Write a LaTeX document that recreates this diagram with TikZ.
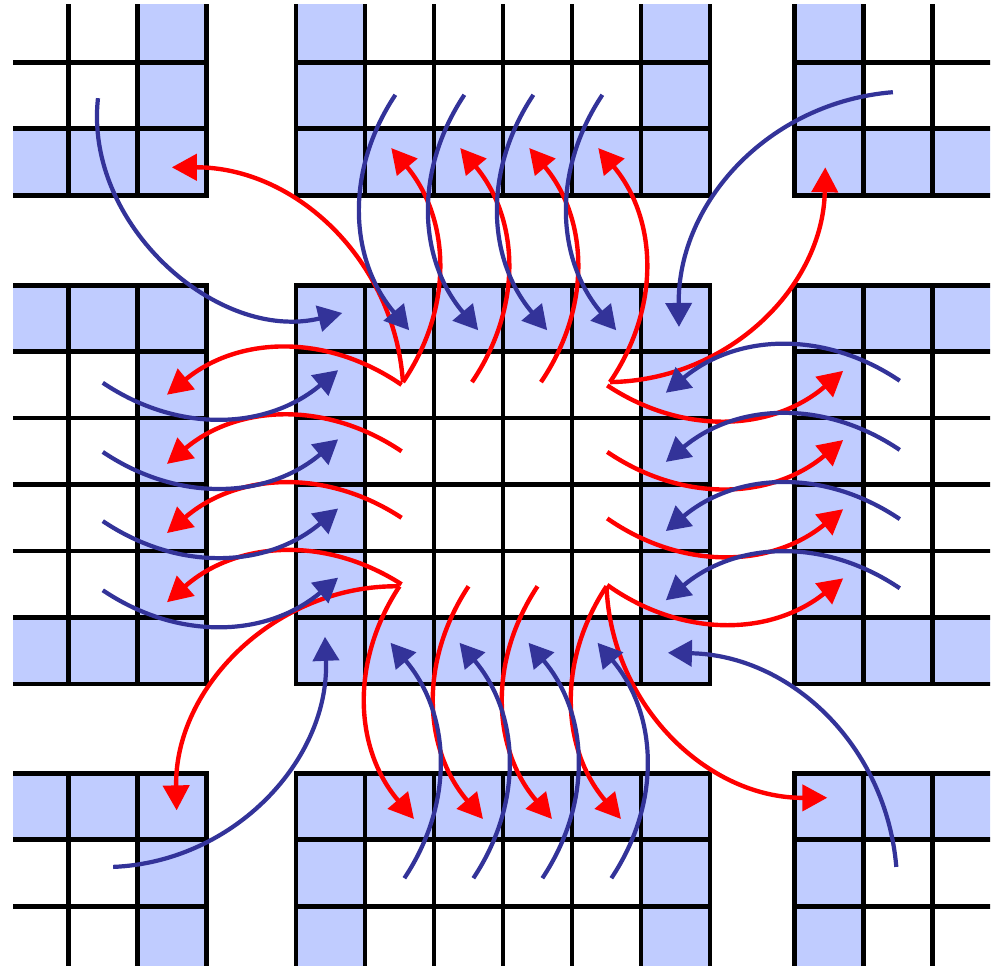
\documentclass[tikz,border=0pt]{standalone}
\usepackage{tikz}
\usepackage{xcolor}
\usetikzlibrary{arrows.meta}

\definecolor{ghostblue}{RGB}{192,204,255}
\definecolor{recvblue}{RGB}{51,51,153}

\begin{document}
\begin{tikzpicture}[
    x=1.38cm, y=1.33cm,
    ghost/.style={fill=ghostblue},
    gridline/.style={black, line width=2.8pt, line cap=rect, step=1},
    send/.style={-{Triangle[length=0.5cm, width=0.52cm]}, red, line width=2.5pt},
    recv/.style={-{Triangle[length=0.48cm, width=0.52cm]}, recvblue, line width=2.4pt},
]
\useasboundingbox (-4.29,4.286) rectangle (10.13,-10.256);

% nine 6x6 blocks, ghost ring shaded, cut at the page edge
\begin{scope}
    \clip (-4.10,4.22) rectangle (10.06,-10.23);
    \foreach \bx in {-7.30, 0, 7.23} {
        \foreach \by in {7.35, 0, -7.34} {
            \begin{scope}[shift={(\bx,\by)}]
                \fill[ghost, even odd rule] (0,0) rectangle (6,-6) (1,-1) rectangle (5,-5);
                \draw[gridline] (0,0) grid (6,-6);
            \end{scope}
        }
    }
\end{scope}

% end points, top and bottom edges
\foreach \i in {1,...,4} {
    \coordinate (tsend\i)  at (\i+0.55,-1.46);
    \coordinate (tghost\i) at (\i+0.38, 2.06);
    \coordinate (tsrc\i)   at (\i+0.44, 2.86);
    \coordinate (trecv\i)  at (\i+0.64,-0.68);
    \coordinate (bsend\i)  at (\i+0.50,-4.53);
    \coordinate (bghost\i) at (\i+0.71,-8.03);
    \coordinate (bsrc\i)   at (\i+0.57,-8.92);
    \coordinate (brecv\i)  at (\i+0.37,-5.38);
}
% end points, left and right edges
\foreach \j [evaluate=\j as \y using 1.04*\j] in {1,...,4} {
    \coordinate (lsend\j)  at (1.53,-\j-0.50);
    \coordinate (lghost\j) at (-1.87,-\y-0.61);
    \coordinate (lsrc\j)   at (-2.80,-\y-0.43);
    \coordinate (lrecv\j)  at (0.61,-\y-0.24);
    \coordinate (rsend\j)  at (4.51,-\j-0.51);
    \coordinate (rghost\j) at (7.93,-\y-0.25);
    \coordinate (rsrc\j)   at (8.75,-\y-0.40);
    \coordinate (rrecv\j)  at (5.36,-\y-0.58);
}
% end points, corners
\coordinate (tlghost) at (-1.80, 1.77);
\coordinate (tlsrc)   at (-2.87, 2.81);
\coordinate (tlrecv)  at (0.67,-0.42);
\coordinate (trghost) at (7.67, 1.77);
\coordinate (trsrc)   at (8.65, 2.90);
\coordinate (trrecv)  at (5.55,-0.63);
\coordinate (blghost) at (-1.73,-7.90);
\coordinate (blsrc)   at (-2.65,-8.75);
\coordinate (blrecv)  at (0.42,-5.29);
\coordinate (brghost) at (7.70,-7.71);
\coordinate (brsrc)   at (8.70,-8.75);
\coordinate (brrecv)  at (5.39,-5.53);

% sends (red)
\foreach \k in {1,...,4} {
    \draw[send] (tsend\k) to[bend right=37] (tghost\k);
    \draw[send] (bsend\k) to[bend right=37] (bghost\k);
    \draw[send] (lsend\k) to[bend right=37] (lghost\k);
    \draw[send] (rsend\k) to[bend right=37] (rghost\k);
}
\draw[send] (tsend1) to[bend right=43] (tlghost);
\draw[send] (tsend4) to[bend right=44] (trghost);
\draw[send] (bsend1) to[bend right=46] (blghost);
\draw[send] (bsend4) to[bend right=44] (brghost);

% receives (blue)
\foreach \k in {1,...,4} {
    \draw[recv] (tsrc\k) to[bend right=37] (trecv\k);
    \draw[recv] (bsrc\k) to[bend right=37] (brecv\k);
    \draw[recv] (lsrc\k) to[bend right=37] (lrecv\k);
    \draw[recv] (rsrc\k) to[bend right=37] (rrecv\k);
}
\draw[recv] (tlsrc) to[bend right=55] (tlrecv);
\draw[recv] (trsrc) to[bend right=43] (trrecv);
\draw[recv] (blsrc) to[bend right=45] (blrecv);
\draw[recv] (brsrc) to[bend right=42] (brrecv);

\end{tikzpicture}
\end{document}
